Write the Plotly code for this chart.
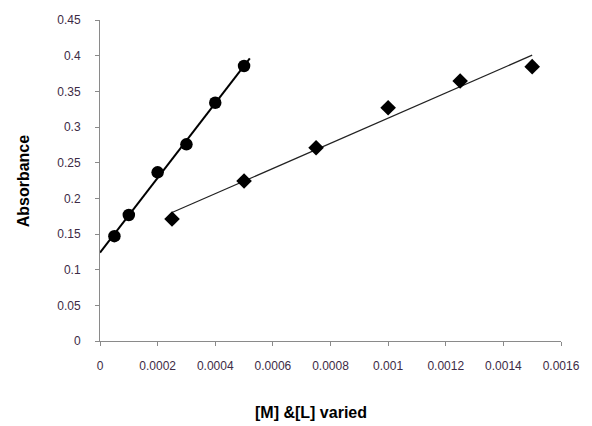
import numpy as np
import plotly.graph_objects as go

# Absorbance readings, metal varied (circles) and ligand varied (diamonds)
m_conc = [0.00005, 0.0001, 0.0002, 0.0003, 0.0004, 0.0005]
m_abs = [0.147, 0.1766, 0.2365, 0.2757, 0.334, 0.3855]

l_conc = [0.00025, 0.0005, 0.00075, 0.001, 0.00125, 0.0015]
l_abs = [0.171, 0.2243, 0.271, 0.327, 0.3645, 0.3846]

# x extents of the linear trendlines
m_fit_span = [0.0, 0.00052]
l_fit_span = [0.00025, 0.0015]

x_ticks = [0, 0.0002, 0.0004, 0.0006, 0.0008, 0.001, 0.0012, 0.0014, 0.0016]
x_tick_text = ["0", "0.0002", "0.0004", "0.0006", "0.0008", "0.001", "0.0012", "0.0014", "0.0016"]
y_ticks = [0, 0.05, 0.1, 0.15, 0.2, 0.25, 0.3, 0.35, 0.4, 0.45]
y_tick_text = ["0", "0.05", "0.1", "0.15", "0.2", "0.25", "0.3", "0.35", "0.4", "0.45"]


def trend(xs, ys, span):
    k, b = np.polyfit(xs, ys, 1)
    sx = np.array(span)
    return sx, k * sx + b


fig = go.Figure()

mx, my = trend(m_conc, m_abs, m_fit_span)
fig.add_trace(go.Scatter(x=mx, y=my, mode="lines",
                         line=dict(color="black", width=2), showlegend=False))
lx, ly = trend(l_conc, l_abs, l_fit_span)
fig.add_trace(go.Scatter(x=lx, y=ly, mode="lines",
                         line=dict(color="#222222", width=1.2), showlegend=False))

fig.add_trace(go.Scatter(x=m_conc, y=m_abs, mode="markers",
                         marker=dict(symbol="circle", size=12.5, color="black"),
                         showlegend=False))
fig.add_trace(go.Scatter(x=l_conc, y=l_abs, mode="markers",
                         marker=dict(symbol="diamond", size=12, color="black"),
                         showlegend=False))

tick_font = dict(family="Liberation Sans, Arial, sans-serif", size=12, color="#3d2b45")

fig.update_layout(
    width=592, height=426,
    margin=dict(l=100, r=20, t=20, b=85),
    paper_bgcolor="white", plot_bgcolor="white",
    xaxis=dict(range=[0, 0.0016], tickvals=x_ticks, ticktext=x_tick_text,
               showgrid=False, zeroline=False, showline=True, linecolor="#8a8a8a",
               linewidth=1, ticks="outside", ticklen=4, tickcolor="#8a8a8a",
               tickfont=tick_font, ticklabelstandoff=10),
    yaxis=dict(range=[0, 0.45], tickvals=y_ticks, ticktext=y_tick_text,
               showgrid=False, zeroline=False, showline=True, linecolor="#8a8a8a",
               linewidth=1, ticks="outside", ticklen=4, tickcolor="#8a8a8a",
               tickfont=tick_font, ticklabelstandoff=12),
    annotations=[
        dict(text="<b>[M] &[L] varied</b>", xref="paper", yref="paper",
             x=(316 - 100) / 472, y=-(412 - 341) / 321, xanchor="center", yanchor="middle",
             showarrow=False,
             font=dict(family="Liberation Sans, Arial, sans-serif", size=16, color="black")),
        dict(text="<b>Absorbance</b>", xref="paper", yref="paper",
             x=-(100 - 22) / 472, y=0.5, xanchor="center", yanchor="middle",
             textangle=-90, showarrow=False,
             font=dict(family="Liberation Sans, Arial, sans-serif", size=16, color="black")),
    ],
)

fig.write_html("out.html")
